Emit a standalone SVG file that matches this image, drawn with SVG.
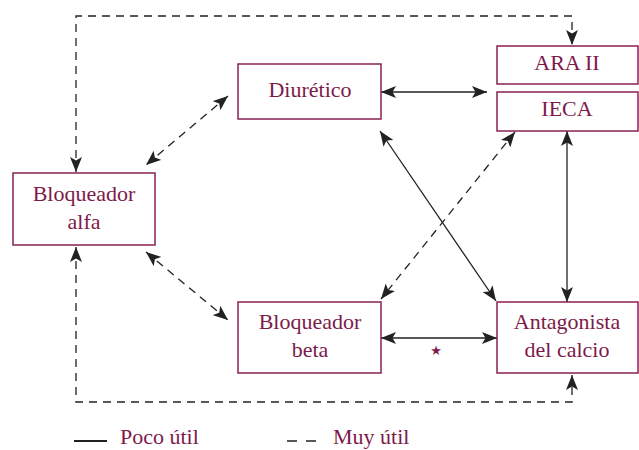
<svg xmlns="http://www.w3.org/2000/svg" width="639" height="450" viewBox="0 0 639 450">
<style>
.box{fill:#fff;stroke:#8a2153;stroke-width:1.5}
.t{font-family:"Liberation Serif","Times New Roman",serif;font-size:22px;fill:#7d1a4a;text-anchor:middle}
.c{fill:none;stroke:#222;stroke-width:1.3}
.d{stroke-dasharray:8 6}
.a{marker-start:url(#ah);marker-end:url(#ah)}
</style>
<defs>
<marker id="ah" markerUnits="userSpaceOnUse" markerWidth="15" markerHeight="12" viewBox="0 0 15 12" refX="15" refY="6" orient="auto-start-reverse">
<path d="M0,0 L15,6 L0,12 L3.5,6 z" fill="#222"/>
</marker>
</defs>
<rect width="639" height="450" fill="#fff"/>
<g id="connectors">
<path class="c d a" d="M76,172 V16 H572 V45"/>
<path class="c d a" d="M76,247 V402 H572 V375"/>
<path class="c a" d="M381,92 H487"/>
<path class="c d a" d="M228,96 L146,165"/>
<path class="c d a" d="M146,252 L228,320"/>
<path class="c a" d="M380,131 L496,301"/>
<path class="c d a" d="M515,132 L381,299"/>
<path class="c a" d="M567,131 V302"/>
<path class="c a" d="M381,338 H497"/>
</g>
<g id="diuretico"><rect class="box" x="238" y="64" width="143" height="55"/><text class="t" x="310" y="97">Diurético</text></g>
<g id="ara2"><rect class="box" x="497" y="46" width="141" height="38"/><text class="t" x="567" y="70">ARA II</text></g>
<g id="ieca"><rect class="box" x="497" y="92" width="141" height="39"/><text class="t" x="567" y="116">IECA</text></g>
<g id="alfa"><rect class="box" x="13" y="173" width="142" height="72"/><text class="t" x="84" y="201">Bloqueador</text><text class="t" x="84" y="229">alfa</text></g>
<g id="beta"><rect class="box" x="238" y="302" width="143" height="71"/><text class="t" x="310" y="329">Bloqueador</text><text class="t" x="310" y="357">beta</text></g>
<g id="calcio"><rect class="box" x="497" y="302" width="141" height="71"/><text class="t" x="567" y="329">Antagonista</text><text class="t" x="567" y="357">del calcio</text></g>
<text x="436" y="355" font-family="DejaVu Sans,sans-serif" font-size="13" fill="#7d1a4a" text-anchor="middle">★</text>
<g id="legend">
<path d="M74,441 H107" stroke="#222" stroke-width="2"/>
<text class="t" x="120" y="444" style="text-anchor:start">Poco útil</text>
<path d="M287,441 H320" stroke="#222" stroke-width="1.5" stroke-dasharray="10 9"/>
<text class="t" x="333" y="444" style="text-anchor:start">Muy útil</text>
</g>
</svg>
